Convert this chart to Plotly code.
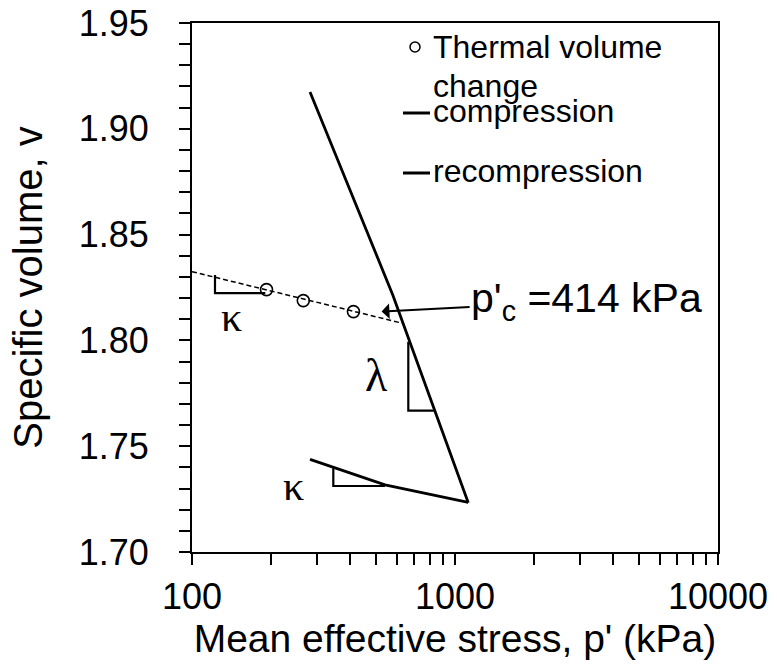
import math
import plotly.graph_objects as go

# ---------------- data ----------------
thermal_p = [192, 265, 411]
thermal_v = [1.8240, 1.8188, 1.8136]

trend_p = [100, 636]
trend_v = [1.8325, 1.8080]

comp_p = [281, 580, 1123]
comp_v = [1.9174, 1.8215, 1.7233]

recomp_p = [281, 542, 1123]
recomp_v = [1.7438, 1.7317, 1.7235]

kappa1_p = [122.3, 122.3, 190]
kappa1_v = [1.8309, 1.8223, 1.8223]
lambda_p = [664.4, 664.4, 832]
lambda_v = [1.7994, 1.7668, 1.7668]
kappa2_p = [344.6, 344.6, 541.7]
kappa2_v = [1.7396, 1.7312, 1.7312]

x_tickvals = [100, 1000, 10000]
x_ticktext = ["100", "1000", "10000"]
x_minor = [200, 300, 400, 500, 600, 700, 800, 900,
           2000, 3000, 4000, 5000, 6000, 7000, 8000, 9000]
y_tickvals = [1.70, 1.75, 1.80, 1.85, 1.90, 1.95]

pc_label = "p'<sub>c</sub> =414 kPa"
pc_target = (526, 1.8136)
kappa_labels = [(140.7, 1.8109), (242.7, 1.7313)]
lambda_label = (504, 1.7836)

FONT = "Liberation Sans, Arial, sans-serif"
SERIF = "Liberation Serif, Times New Roman, serif"

fig = go.Figure()

fig.add_trace(go.Scatter(x=trend_p, y=trend_v, mode="lines",
                         line=dict(color="black", width=1.5, dash="5px,3px"),
                         showlegend=False, hoverinfo="skip"))
fig.add_trace(go.Scatter(x=thermal_p, y=thermal_v, mode="markers",
                         marker=dict(symbol="circle-open", size=12, color="black",
                                     line=dict(width=1.6, color="black")),
                         name="Thermal volume change", showlegend=False))
fig.add_trace(go.Scatter(x=comp_p, y=comp_v, mode="lines",
                         line=dict(color="black", width=2.8),
                         name="compression", showlegend=False))
fig.add_trace(go.Scatter(x=recomp_p, y=recomp_v, mode="lines",
                         line=dict(color="black", width=2.8),
                         name="recompression", showlegend=False))
for tp, tv in [(kappa1_p, kappa1_v), (lambda_p, lambda_v), (kappa2_p, kappa2_v)]:
    fig.add_trace(go.Scatter(x=tp, y=tv, mode="lines",
                             line=dict(color="black", width=2.2),
                             showlegend=False, hoverinfo="skip"))

annotations = []
for (p, v) in kappa_labels:
    annotations.append(dict(x=math.log10(p), y=v, xref="x", yref="y", text="κ",
                            showarrow=False, font=dict(family=SERIF, size=42, color="black")))
annotations.append(dict(x=math.log10(lambda_label[0]), y=lambda_label[1], xref="x", yref="y",
                        text="λ", showarrow=False,
                        font=dict(family=SERIF, size=46, color="black")))
annotations.append(dict(x=math.log10(pc_target[0]), y=pc_target[1], xref="x", yref="y",
                        text=pc_label, showarrow=True, ax=205, ay=-11,
                        arrowhead=1, arrowsize=1.3, arrowwidth=2, arrowcolor="black",
                        font=dict(family=FONT, size=41, color="black")))


def px(x):
    return (x - 192) / 526.0


def py(y):
    return (552 - y) / 529.0


leg_font = dict(family=FONT, size=32, color="black")
for txt, yy in [("Thermal volume", 47), ("change", 86), ("compression", 111), ("recompression", 171)]:
    annotations.append(dict(x=px(431), y=py(yy), xref="paper", yref="paper", text=txt,
                            showarrow=False, xanchor="left", yanchor="middle", font=leg_font))

shapes = [
    dict(type="circle", xref="paper", yref="paper", xsizemode="pixel", ysizemode="pixel",
         xanchor=px(415), yanchor=py(47), x0=-5, x1=5, y0=-5, y1=5,
         line=dict(color="black", width=1.5)),
    dict(type="line", xref="paper", yref="paper", x0=px(403), x1=px(430), y0=py(113), y1=py(113),
         line=dict(color="black", width=3)),
    dict(type="line", xref="paper", yref="paper", x0=px(403), x1=px(430), y0=py(173), y1=py(173),
         line=dict(color="black", width=3)),
]

fig.update_layout(
    width=777, height=667,
    margin=dict(l=192, r=59, t=23, b=115),
    paper_bgcolor="white", plot_bgcolor="white",
    font=dict(family=FONT, size=32, color="black"),
    showlegend=False,
    annotations=annotations,
    shapes=shapes,
    xaxis=dict(type="log", range=[2, 4], tickvals=x_tickvals, ticktext=x_ticktext,
               ticks="outside", ticklen=11, tickwidth=2, tickcolor="black",
               showline=True, linecolor="black", linewidth=2, mirror=True,
               showgrid=False, zeroline=False, automargin=False,
               minor=dict(tickvals=x_minor, ticks="outside", ticklen=11, tickwidth=2,
                          tickcolor="black", showgrid=False),
               tickfont=dict(size=36), ticklabelstandoff=1,
               title=dict(text="Mean effective stress, p' (kPa)", font=dict(size=39), standoff=4)),
    yaxis=dict(range=[1.70, 1.95], tickvals=y_tickvals, tickformat=".2f",
               ticks="outside", ticklen=11, tickwidth=2, tickcolor="black",
               showline=True, linecolor="black", linewidth=2, mirror=True,
               showgrid=False, zeroline=False, automargin=False,
               minor=dict(dtick=0.01, ticks="outside", ticklen=11, tickwidth=2,
                          tickcolor="black", showgrid=False),
               tickfont=dict(size=36), ticklabelstandoff=23,
               title=dict(text="Specific volume, v", font=dict(size=40), standoff=24)),
)

fig.write_html("out.html")
